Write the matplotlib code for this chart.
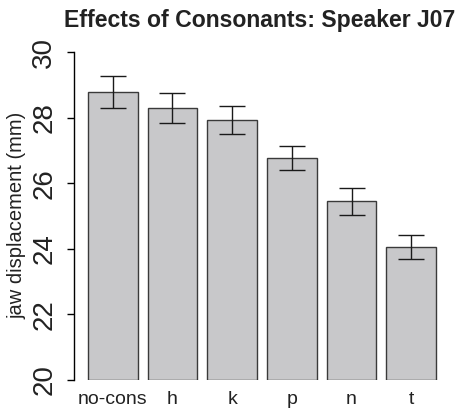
import numpy as np
import matplotlib
matplotlib.use("Agg")
import matplotlib.pyplot as plt

plt.rcParams['font.family'] = ['Liberation Sans', 'DejaVu Sans']

# Data
consonants = ['no-cons', 'h', 'k', 'p', 'n', 't']
means = [28.78, 28.29, 27.92, 26.77, 25.45, 24.06]
errors = [0.50, 0.45, 0.42, 0.37, 0.41, 0.36]
y_ticks = [20, 22, 24, 26, 28, 30]

# R-style bar positions: width 1, space 0.2
x = 0.7 + 1.2 * np.arange(len(consonants))

fig = plt.figure(figsize=(4.63, 4.13), dpi=100)
ax = fig.add_axes([74 / 463, 1 - 380 / 413, 376 / 463, 328 / 413])

ax.bar(x, np.array(means) - 20, bottom=20, width=1.0, color='#c8c8ca',
       edgecolor='#3a3a3a', linewidth=1.0)
ax.errorbar(x, means, yerr=errors, fmt='none', ecolor='#1a1a1a',
            elinewidth=1.0, capsize=9.4, capthick=1.0, clip_on=False)

ax.set_xlim(0.2 - 0.28, 7.2 + 0.28)
ax.set_ylim(20, 30)

for side in ['top', 'right', 'bottom']:
    ax.spines[side].set_visible(False)
ax.spines['left'].set_bounds(20, 30)
ax.spines['left'].set_linewidth(1.0)

ax.set_yticks(y_ticks)
ax.set_yticklabels([str(t) for t in y_ticks], rotation=90, va='center',
                   fontsize=20, color='#222222')
ax.tick_params(axis='y', direction='out', length=5, width=1.0, pad=7)

ax.set_xticks(x)
ax.set_xticklabels(consonants, fontsize=14, color='#222222')
ax.tick_params(axis='x', length=0, pad=8)

fig.text(17 / 463, 1 - 215 / 413, 'jaw displacement (mm)', rotation=90,
         ha='center', va='center', fontsize=14.5, color='#222222')
fig.text(260 / 463, 1 - 20 / 413, 'Effects of Consonants: Speaker J07',
         ha='center', va='center', fontsize=16.6, fontweight='bold',
         color='#222222')

fig.savefig('out.png', dpi=100)
